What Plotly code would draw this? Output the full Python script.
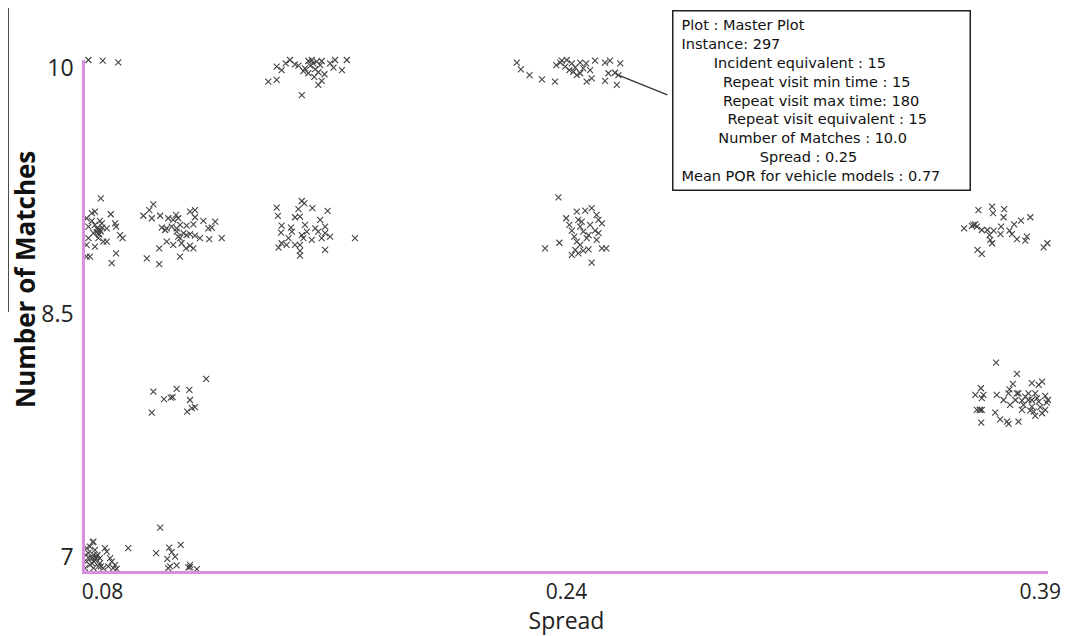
import plotly.graph_objects as go

# ---- data ----
# cluster near Spread 0.08, Matches 9
spread_c1 = [0.0851, 0.0832, 0.0822, 0.0883, 0.0805, 0.0848, 0.0897, 0.0811, 0.0838, 0.0848,
             0.0870, 0.0900, 0.0913, 0.0921, 0.0811, 0.0843, 0.0859, 0.0870, 0.0832, 0.0805,
             0.0827, 0.0843, 0.0900, 0.0805, 0.0816, 0.0886, 0.0854, 0.0832, 0.0822, 0.0843,
             0.0851, 0.0838, 0.0856, 0.0846]
matches_c1 = [9.187, 9.107, 9.098, 9.092, 9.068, 9.052, 9.038, 9.018, 9.008, 8.998,
              9.008, 9.018, 8.968, 8.949, 8.949, 8.949, 8.928, 8.928, 8.899, 8.909,
              8.979, 8.979, 8.859, 8.839, 8.839, 8.800, 9.038, 9.028, 9.052, 9.000,
              8.990, 8.985, 9.012, 8.970]

# cluster near Spread 0.11, Matches 9
spread_c2 = [0.1020, 0.1007, 0.0988, 0.1015, 0.1042, 0.1093, 0.1138, 0.1154, 0.1154, 0.1068,
             0.1084, 0.1100, 0.1181, 0.1219, 0.1047, 0.1063, 0.1079, 0.1095, 0.1106, 0.1127,
             0.1149, 0.1197, 0.1208, 0.1058, 0.1117, 0.1127, 0.1100, 0.1106, 0.1138, 0.1154,
             0.1063, 0.1084, 0.1111, 0.1138, 0.1149, 0.1125, 0.1200, 0.1240, 0.1039, 0.1106,
             0.0999, 0.1039, 0.1170, 0.1095]
matches_c2 = [9.151, 9.117, 9.083, 9.068, 9.083, 9.088, 9.107, 9.117, 9.074, 9.068,
              9.058, 9.068, 9.052, 9.048, 9.012, 9.008, 9.018, 9.008, 9.028, 9.024,
              9.032, 9.008, 9.012, 8.998, 8.979, 8.968, 8.958, 8.949, 8.973, 8.964,
              8.928, 8.909, 8.919, 8.905, 8.889, 8.889, 8.943, 8.949, 8.889, 8.839,
              8.829, 8.795, 8.949, 8.988]

# cluster near Spread 0.15, Matches 9
spread_c3 = [0.1498, 0.1506, 0.1417, 0.1532, 0.1487, 0.1581, 0.1421, 0.1476, 0.1492, 0.1557,
             0.1433, 0.1463, 0.1508, 0.1541, 0.1573, 0.1431, 0.1466, 0.1498, 0.1551, 0.1573,
             0.1589, 0.1455, 0.1503, 0.1530, 0.1433, 0.1449, 0.1476, 0.1492, 0.1669, 0.1573,
             0.1492, 0.1492, 0.1423, 0.1562, 0.1514]
matches_c3 = [9.171, 9.157, 9.131, 9.128, 9.123, 9.112, 9.082, 9.074, 9.078, 9.058,
              9.024, 9.012, 9.028, 9.008, 9.018, 8.982, 8.988, 8.968, 8.988, 8.979,
              8.958, 8.949, 8.949, 8.939, 8.919, 8.909, 8.909, 8.909, 8.949, 8.879,
              8.873, 8.845, 8.893, 8.949, 8.988]

# cluster near Spread 0.24, Matches 9
spread_c4 = [0.2324, 0.2383, 0.2410, 0.2431, 0.2349, 0.2388, 0.2447, 0.2453, 0.2359, 0.2394,
             0.2426, 0.2464, 0.2367, 0.2404, 0.2442, 0.2453, 0.2375, 0.2415, 0.2447, 0.2327,
             0.2383, 0.2394, 0.2281, 0.2378, 0.2404, 0.2421, 0.2464, 0.2478, 0.2367, 0.2388,
             0.2431, 0.2399, 0.2421]
matches_c4 = [9.193, 9.107, 9.113, 9.128, 9.068, 9.058, 9.088, 9.058, 9.028, 9.018,
              9.028, 9.038, 8.994, 8.988, 8.994, 8.979, 8.958, 8.949, 8.939, 8.922,
              8.928, 8.909, 8.889, 8.879, 8.875, 8.883, 8.889, 8.889, 8.849, 8.859,
              8.803, 9.048, 8.968]

# cluster near Spread 0.38, Matches 9
spread_c5 = [0.3676, 0.3720, 0.3723, 0.3759, 0.3757, 0.3843, 0.3813, 0.3791, 0.3630, 0.3655,
             0.3666, 0.3671, 0.3687, 0.3705, 0.3725, 0.3749, 0.3712, 0.3747, 0.3776, 0.3784,
             0.3800, 0.3832, 0.3827, 0.3714, 0.3720, 0.3886, 0.3898, 0.3673, 0.3687, 0.3660]
matches_c5 = [9.117, 9.137, 9.098, 9.122, 9.074, 9.074, 9.054, 9.032, 9.008, 9.022,
              9.032, 9.018, 8.998, 8.998, 8.994, 9.018, 8.968, 8.974, 8.994, 8.974,
              8.943, 8.958, 8.934, 8.939, 8.919, 8.895, 8.919, 8.879, 8.855, 9.028]

# few points at Spread 0.08, Matches 10
spread_c6 = [0.0811, 0.0857, 0.0907]
matches_c6 = [10.012, 10.008, 9.998]

# cluster near Spread 0.15, Matches 10
spread_c7 = [0.1460, 0.1446, 0.1417, 0.1433, 0.1476, 0.1487, 0.1519, 0.1530, 0.1546, 0.1562,
             0.1605, 0.1643, 0.1508, 0.1525, 0.1541, 0.1589, 0.1600, 0.1627, 0.1503, 0.1519,
             0.1551, 0.1571, 0.1538, 0.1562, 0.1551, 0.1390, 0.1417, 0.1498, 0.1535, 0.1557]
matches_c7 = [10.012, 9.992, 9.972, 9.952, 9.986, 9.978, 10.006, 10.012, 10.002, 10.006,
              10.012, 10.012, 9.962, 9.978, 9.958, 9.992, 9.966, 9.952, 9.946, 9.933,
              9.939, 9.927, 9.911, 9.888, 9.863, 9.883, 9.893, 9.803, 9.992, 9.982]

# cluster near Spread 0.24, Matches 10
spread_c8 = [0.2190, 0.2203, 0.2231, 0.2271, 0.2313, 0.2317, 0.2335, 0.2351, 0.2367, 0.2359,
             0.2378, 0.2394, 0.2413, 0.2442, 0.2426, 0.2394, 0.2383, 0.2415, 0.2431, 0.2474,
             0.2490, 0.2523, 0.2485, 0.2506, 0.2517, 0.2474, 0.2512, 0.2404, 0.2346, 0.2372,
             0.2330]
matches_c8 = [9.996, 9.956, 9.922, 9.897, 9.883, 9.982, 10.008, 10.012, 9.992, 9.952,
              9.968, 9.996, 9.992, 10.008, 9.952, 9.933, 9.922, 9.883, 9.903, 9.996,
              10.008, 9.992, 9.933, 9.936, 9.922, 9.888, 9.863, 9.962, 9.972, 9.942,
              9.996]

# cluster near Spread 0.11, Matches 8
spread_c9 = [0.1190, 0.1020, 0.1095, 0.1136, 0.1054, 0.1076, 0.1082, 0.1138, 0.1154, 0.1144,
             0.1129, 0.1015]
matches_c9 = [8.110, 8.034, 8.050, 8.044, 7.989, 7.998, 8.001, 7.984, 7.941, 7.935,
              7.915, 7.909]

# cluster near Spread 0.38, Matches 8
spread_c10 = [0.3733, 0.3800, 0.3848, 0.3881, 0.3870, 0.3787, 0.3776, 0.3684, 0.3666, 0.3692,
              0.3687, 0.3735, 0.3773, 0.3805, 0.3837, 0.3859, 0.3891, 0.3757, 0.3795, 0.3816,
              0.3848, 0.3870, 0.3896, 0.3778, 0.3821, 0.3848, 0.3875, 0.3671, 0.3687, 0.3816,
              0.3843, 0.3891, 0.3730, 0.3881, 0.3859, 0.3746, 0.3768, 0.3805, 0.3685, 0.3773,
              0.3837, 0.3827, 0.3900, 0.3865, 0.3854, 0.3800, 0.3680, 0.3682]
matches_c10 = [8.207, 8.140, 8.084, 8.094, 8.074, 8.080, 8.048, 8.054, 8.014, 8.014,
               7.995, 8.014, 8.024, 8.024, 8.024, 8.024, 8.008, 7.984, 7.984, 7.980,
               7.984, 7.974, 7.968, 7.955, 7.955, 7.945, 7.941, 7.925, 7.925, 7.925,
               7.921, 7.925, 7.909, 7.905, 7.889, 7.869, 7.855, 7.855, 7.849, 7.841,
               7.984, 8.004, 7.984, 7.995, 7.915, 8.024, 7.925, 7.925]

# cluster near Spread 0.08, Matches 7
spread_c11 = [0.0825, 0.0816, 0.0805, 0.0832, 0.0864, 0.0870, 0.0811, 0.0827, 0.0838, 0.0822,
              0.0832, 0.0848, 0.0881, 0.0886, 0.0805, 0.0816, 0.0843, 0.0859, 0.0875, 0.0891,
              0.0902, 0.0800, 0.0827, 0.0822, 0.0840, 0.0811, 0.0848, 0.0897, 0.0803, 0.0829,
              0.0835, 0.0851, 0.0827, 0.0939]
matches_c11 = [7.136, 7.110, 7.100, 7.090, 7.100, 7.080, 7.070, 7.060, 7.050, 7.041,
               7.030, 7.041, 7.041, 7.020, 7.020, 7.001, 6.991, 6.981, 6.991, 6.981,
               6.977, 6.981, 6.981, 7.011, 7.060, 7.044, 7.011, 7.001, 7.060, 7.020,
               7.041, 6.991, 7.139, 7.100]

# cluster near Spread 0.11, Matches 7
spread_c12 = [0.1042, 0.1029, 0.1071, 0.1108, 0.1079, 0.1090, 0.1065, 0.1074, 0.1095, 0.1068,
              0.1138, 0.1133, 0.1160, 0.1138]
matches_c12 = [7.223, 7.070, 7.104, 7.120, 7.076, 7.050, 7.036, 6.991, 6.997, 6.981,
               7.001, 6.985, 6.975, 6.987]

# highlighted instance
pointed_spread = 0.2517
pointed_matches = 9.922
info_lines = [
    "Plot : Master Plot",
    "Instance: 297",
    "Incident equivalent : 15",
    "Repeat visit min time : 15",
    "Repeat visit max time: 180",
    "Repeat visit equivalent : 15",
    "Number of Matches : 10.0",
    "Spread : 0.25",
    "Mean PQR for vehicle models : 0.77",
]
info_indent = [0, 0, 7, 9, 9, 10, 8, 17, 0]

x_tick_vals = [0.0856, 0.235, 0.3875]
x_tick_text = ["0.08", "0.24", "0.39"]
y_tick_vals = [9.964, 8.5, 7.048]
y_tick_text = ["10", "8.5", "7"]

spread_all = (spread_c1 + spread_c2 + spread_c3 + spread_c4 + spread_c5 + spread_c6 +
              spread_c7 + spread_c8 + spread_c9 + spread_c10 + spread_c11 + spread_c12)
matches_all = (matches_c1 + matches_c2 + matches_c3 + matches_c4 + matches_c5 + matches_c6 +
               matches_c7 + matches_c8 + matches_c9 + matches_c10 + matches_c11 + matches_c12)

FONT = "Open Sans"
BOX_FONT = "DejaVu Sans"
AXIS_COLOR = "#d98ee0"

# The page body adds an 8px offset, so the figure is 8px smaller and starts 8px in.
fig = go.Figure()
fig.add_trace(go.Scatter(
    x=spread_all, y=matches_all, mode="markers",
    marker=dict(symbol="x-thin", size=6, line=dict(width=1.1, color="#444444")),
    cliponaxis=False, showlegend=False, hoverinfo="x+y",
))

info_text = "<br>".join("\u00a0" * n + s for n, s in zip(info_indent, info_lines))

fig.add_annotation(
    xref="paper", yref="paper", x=(672 - 85) / 963, y=(571 - 10) / 511,
    xanchor="left", yanchor="top", showarrow=False,
    text=info_text, align="left", width=280, height=162, valign="middle",
    bordercolor="#222222", borderwidth=1.5, borderpad=8, bgcolor="white",
    font=dict(family=BOX_FONT, size=14.5, color="#111111"),
)
fig.add_annotation(
    x=pointed_spread, y=pointed_matches, xref="x", yref="y",
    ax=52, ay=21, axref="pixel", ayref="pixel", text=" ",
    showarrow=True, arrowhead=0, arrowwidth=1.3, arrowcolor="#333333",
    standoff=0, startstandoff=0,
)
# y-axis title (placed above centre like the original)
fig.add_annotation(
    xref="paper", yref="paper", x=(25 - 85) / 963, y=(571 - 280) / 511,
    xanchor="center", yanchor="middle", showarrow=False, textangle=-90,
    text="<b>Number of Matches</b>", font=dict(family=FONT, size=26, color="#111111"),
)

# stray border line at the far left of the original figure
fig.add_shape(type="line", xref="paper", yref="paper",
              x0=-77 / 963, x1=-77 / 963, y0=(571 - 8) / 511, y1=(571 - 312) / 511,
              line=dict(color="#111111", width=1.5))

fig.update_layout(
    width=1061, height=628,
    margin=dict(l=77, r=21, t=52, b=65),
    paper_bgcolor="white", plot_bgcolor="white",
    font=dict(family=FONT, color="#222222"),
    xaxis=dict(
        range=[0.08, 0.39], tickvals=x_tick_vals, ticktext=x_tick_text, automargin=False,
        showgrid=False, zeroline=False, showline=True, linecolor=AXIS_COLOR, linewidth=2.5,
        ticks="", ticklabelstandoff=0, tickfont=dict(size=21, color="#222222"),
        title=dict(text="Spread", font=dict(size=23, color="#222222"), standoff=0),
    ),
    yaxis=dict(
        range=[6.964, 10.012], tickvals=y_tick_vals, ticktext=y_tick_text, automargin=False,
        showgrid=False, zeroline=False, showline=True, linecolor=AXIS_COLOR, linewidth=2.5,
        ticks="", ticklabelstandoff=4, tickfont=dict(size=23, color="#222222"),
    ),
)

fig.write_html("out.html")
